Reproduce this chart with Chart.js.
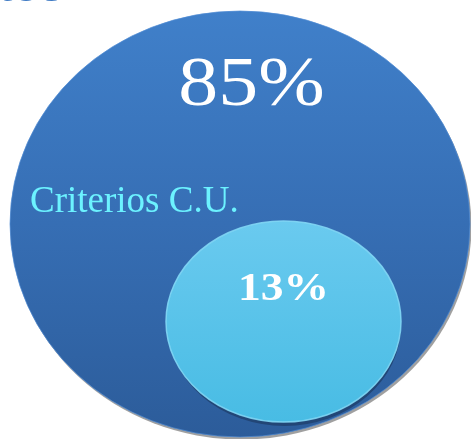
<!DOCTYPE html>
<html>
<head>
<meta charset="utf-8">
<script src="https://cdn.jsdelivr.net/npm/chart.js@4/dist/chart.umd.min.js"></script>
<style>
  html, body { margin: 0; padding: 0; background: #ffffff; }
  #wrap { position: relative; width: 471px; height: 439px; }
</style>
</head>
<body>
<div id="wrap"><canvas id="c" width="471" height="439"></canvas></div>
<script>
// ---- data ----
const setNames = ["Criterios C.U.", ""];
const setPercents = [85, 13];
const valueLabels = ["85%", "13%"];
const titleFragment = "tos";

// ---- geometry (layout in scale units) ----
const geom = [
  { cx: 240, cy: 224, rx: 230, ry: 213 },
  { cx: 283.5, cy: 321.5, rx: 117.5, ry: 100.5 }
];

function wideText(ctx, text, x, y, sx) {
  ctx.save();
  ctx.translate(x, y);
  ctx.scale(sx, 1);
  ctx.fillText(text, 0, 0);
  ctx.restore();
}

const vennPlugin = {
  id: 'venn',
  beforeDatasetsDraw(chart) {
    const ctx = chart.ctx;
    const xs = chart.scales.x, ys = chart.scales.y;
    const px = v => xs.getPixelForValue(v);
    const py = v => ys.getPixelForValue(v);

    // partial title fragment at top-left (cut off by the top edge)
    ctx.save();
    ctx.fillStyle = 'rgb(62,122,196)';
    ctx.font = 'bold 44px "Liberation Sans", sans-serif';
    ctx.textBaseline = 'alphabetic';
    ctx.textAlign = 'right';
    ctx.fillText(titleFragment, 64, 1);
    ctx.restore();

    chart.data.datasets.forEach((ds, i) => {
      const meta = chart.getDatasetMeta(i);
      const pt = meta.data[0];
      const g = geom[i];
      const cx = pt.x, cy = pt.y;
      const rx = Math.abs(px(g.cx + g.rx) - px(g.cx));
      const ry = Math.abs(py(g.cy + g.ry) - py(g.cy));
      ctx.save();
      if (i === 0) {
        ctx.beginPath();
        ctx.ellipse(cx + 1.5, cy + 2.5, rx, ry, 0, 0, Math.PI * 2);
        ctx.fillStyle = 'rgba(150,150,150,0.9)';
        ctx.fill();
        const grad = ctx.createLinearGradient(0, cy - ry, 0, cy + ry);
        grad.addColorStop(0, 'rgb(64,128,202)');
        grad.addColorStop(0.5, 'rgb(54,110,180)');
        grad.addColorStop(1, 'rgb(44,92,154)');
        ctx.beginPath();
        ctx.ellipse(cx, cy, rx, ry, 0, 0, Math.PI * 2);
        ctx.fillStyle = grad;
        ctx.fill();
        ctx.lineWidth = 1;
        ctx.strokeStyle = 'rgba(80,140,212,0.7)';
        ctx.stroke();
      } else {
        ctx.beginPath();
        ctx.ellipse(cx + 1, cy + 4, rx - 1, ry, 0, 0, Math.PI * 2);
        ctx.fillStyle = 'rgb(34,70,118)';
        ctx.fill();
        const grad = ctx.createLinearGradient(0, cy - ry, 0, cy + ry);
        grad.addColorStop(0, 'rgb(106,202,239)');
        grad.addColorStop(1, 'rgb(72,188,228)');
        ctx.beginPath();
        ctx.ellipse(cx, cy, rx, ry, 0, 0, Math.PI * 2);
        ctx.fillStyle = grad;
        ctx.fill();
        ctx.lineWidth = 1.5;
        ctx.strokeStyle = 'rgba(130,215,245,0.9)';
        ctx.stroke();
      }
      ctx.restore();
    });

    // texts
    ctx.save();
    ctx.textBaseline = 'alphabetic';
    ctx.fillStyle = '#ffffff';
    ctx.textAlign = 'center';
    ctx.font = '70px "Liberation Serif", serif';
    wideText(ctx, valueLabels[0], px(251.5), py(105), 1.14);
    ctx.font = 'bold 40px "Liberation Serif", serif';
    wideText(ctx, valueLabels[1], px(283.5), py(300), 1.14);
    ctx.textAlign = 'left';
    ctx.fillStyle = 'rgb(108,242,255)';
    ctx.font = '37px "Liberation Serif", serif';
    ctx.fillText(setNames[0], px(30), py(212));
    ctx.restore();
  }
};

new Chart(document.getElementById('c'), {
  type: 'scatter',
  data: {
    datasets: setPercents.map((p, i) => ({
      label: setNames[i] || valueLabels[i],
      data: [{ x: geom[i].cx, y: geom[i].cy, v: p }],
      pointRadius: 0,
      pointHoverRadius: 0
    }))
  },
  options: {
    responsive: false,
    animation: false,
    layout: { padding: 0 },
    plugins: { legend: { display: false }, tooltip: { enabled: false } },
    scales: {
      x: { type: 'linear', min: 0, max: 471, display: false },
      y: { type: 'linear', min: 0, max: 439, reverse: true, display: false }
    }
  },
  plugins: [vennPlugin]
});
</script>
</body>
</html>
